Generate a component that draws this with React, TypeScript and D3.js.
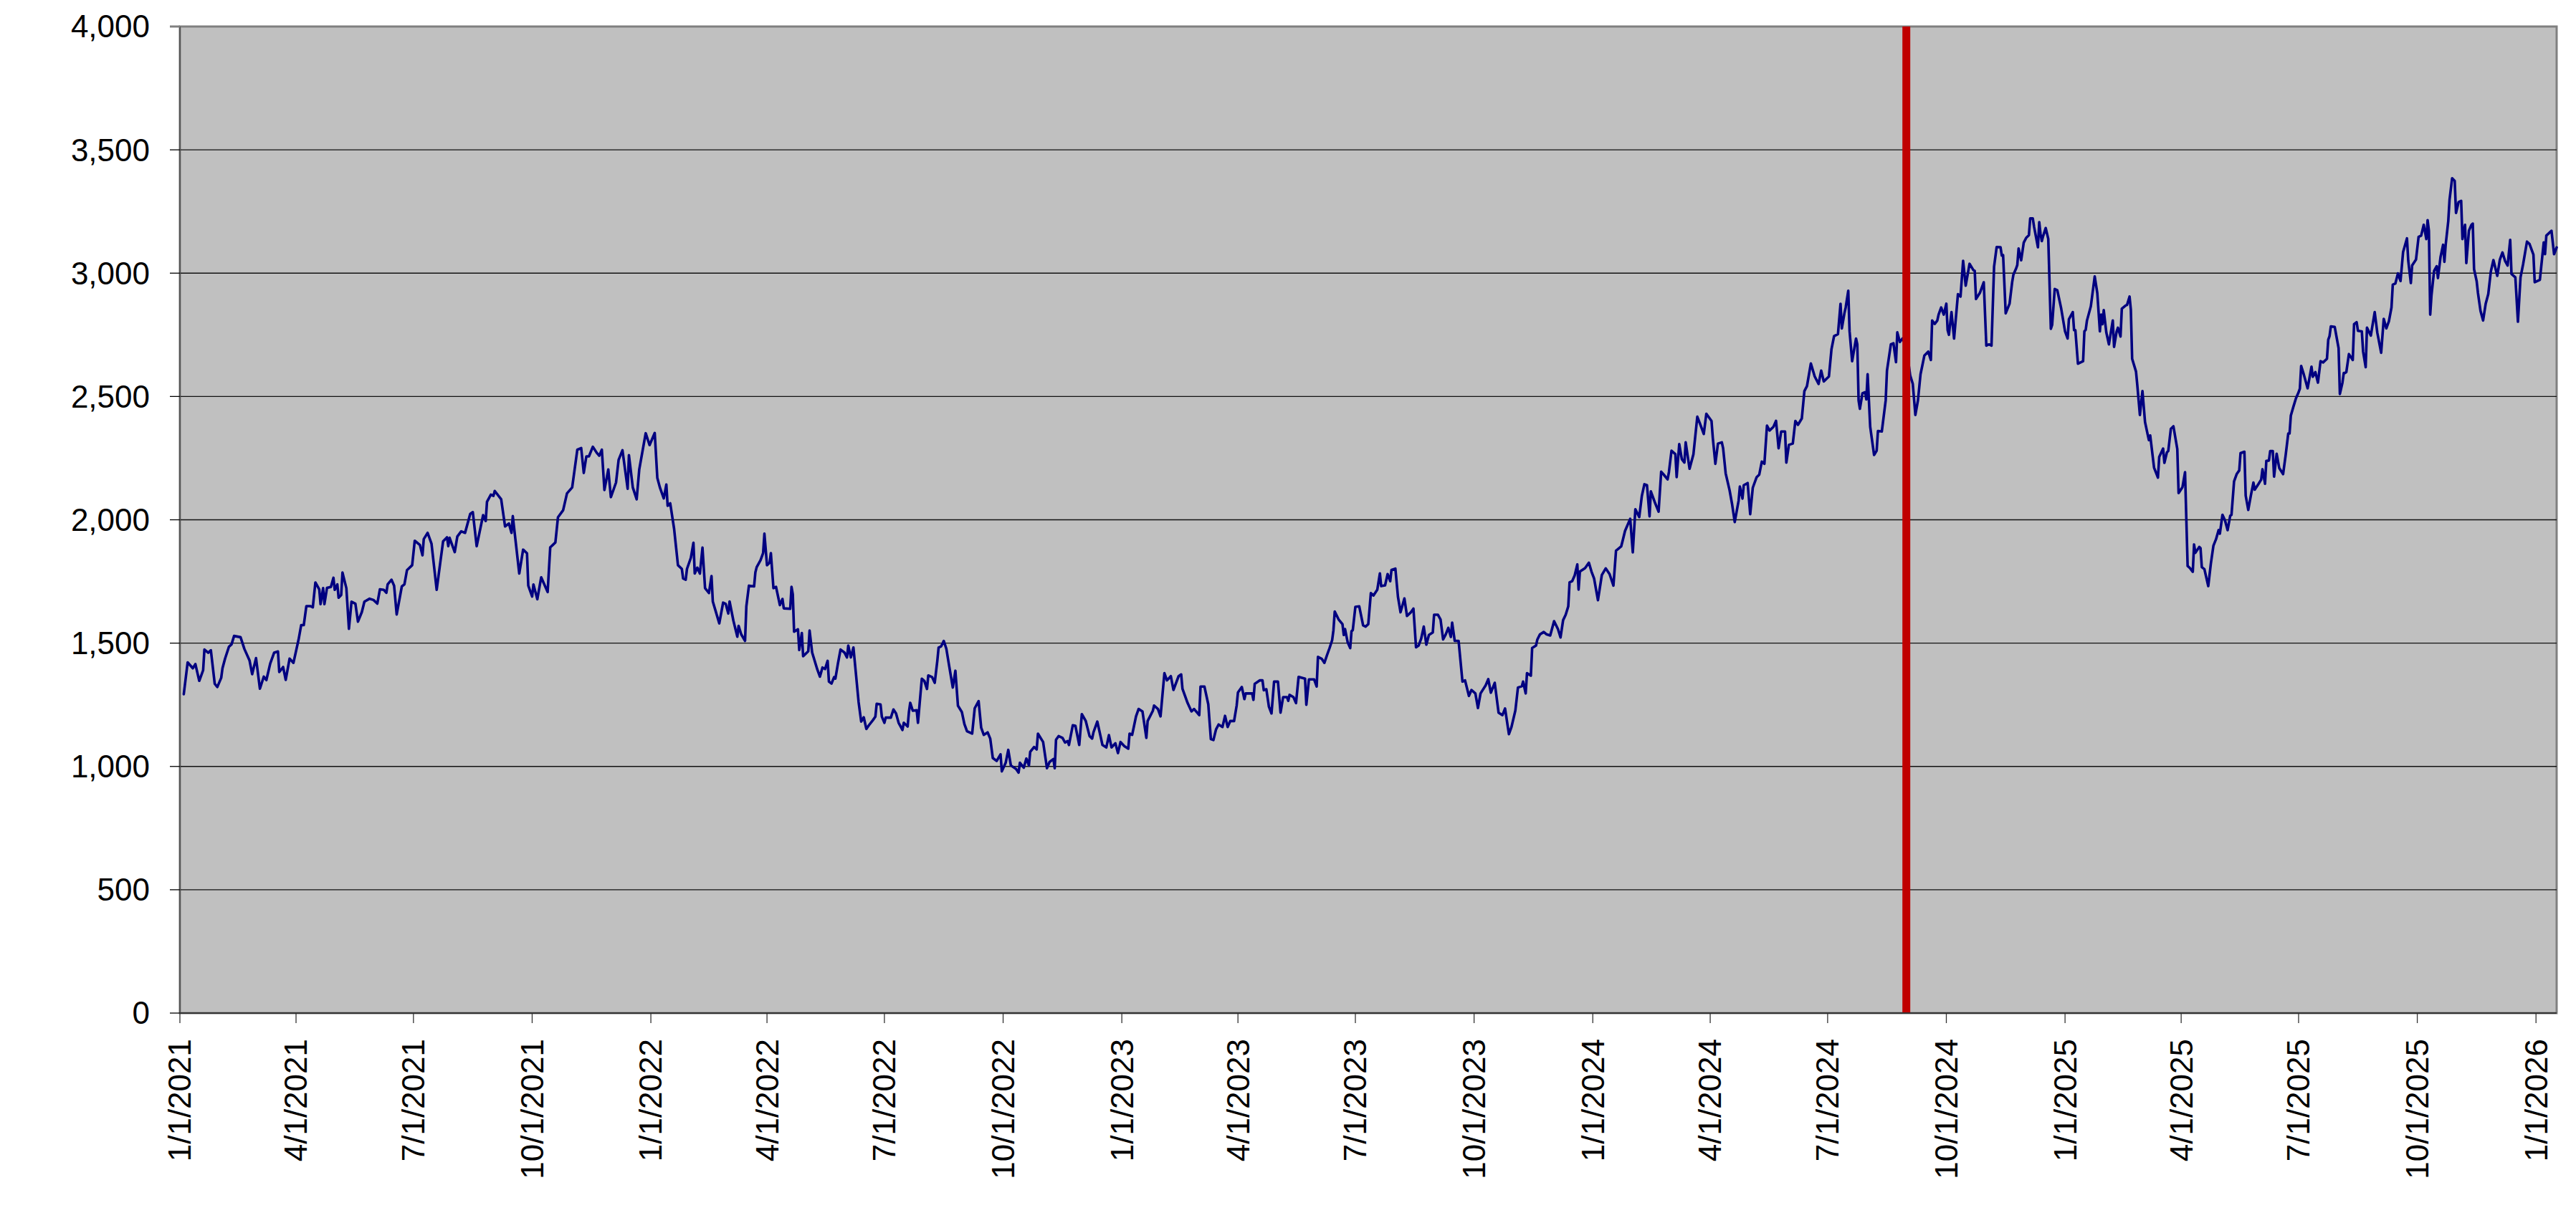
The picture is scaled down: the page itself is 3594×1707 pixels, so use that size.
import React from "react";
import * as d3 from "d3";

// ---- data ----
const startDate = "2021-01-01";
const endOffsetDays = 1842; // last day shown on the x axis
const markerDate = "2024-08-31";
const yTicks = [0, 500, 1000, 1500, 2000, 2500, 3000, 3500, 4000];

// [days since startDate, value]
const series2021: [number, number][] = [
  [3,1293],[6,1422],[10,1398],[12,1415],[15,1347],[18,1390],[19,1474],[22,1461],[24,1471],[27,1335],[29,1322],[32,1359],[33,1398],[35,1437],[38,1485],[40,1495],[42,1529],[47,1524],[50,1476],[54,1429],[56,1374],[59,1439],[62,1315],[65,1364],[67,1350],[70,1417],[73,1461],[76,1466],[77,1383],[80,1403],[82,1351],[85,1437],[88,1420],[92,1515],[94,1573],[96,1573],[98,1650],[101,1650],[103,1645],[105,1746],[108,1718],[109,1658],[111,1723],[112,1658],[114,1724],[117,1728],[119,1765],[120,1716],[122,1738],[123,1684],[125,1695],[126,1786],[129,1723],[131,1558],[133,1668],[136,1660],[138,1587],[141,1626],[143,1668],[147,1680],[150,1675],[153,1660],[155,1718],[158,1716],[160,1704],[161,1738],[164,1757],[166,1733],[168,1616],[172,1730],[174,1738],[176,1796],[180,1816],[182,1915],[186,1898],[188,1856],[189,1922],[192,1947],[195,1903],[199,1716],[202,1835],[204,1913],[207,1929],[208,1893],[209,1927],[213,1869],[215,1932],[218,1953],[221,1947],[225,2024],[227,2031],[230,1893],[235,2019],[237,1995],[238,2073],[241,2102],[243,2097],[244,2117],[249,2083],[252,1973],[255,1985],[257,1947],[258,2015],[263,1782],[266,1879],[269,1864],[270,1733],[273,1689],[274,1738],[277,1678],[280,1767],[285,1707],[287,1888],[291,1908],[293,2010],[297,2039],[300,2107],[304,2131],[308,2284],[311,2291],[313,2190],[315,2257],[317,2257],[320,2296],[323,2272],[325,2260],[327,2284],[329,2121],[332,2204],[334,2092],[338,2151],[340,2243],[343,2282],[347,2126],[348,2262],[351,2131],[354,2083],[356,2204],[361,2351],
];
const series2022: [number, number][] = [
  [364,2303],[368,2352],[370,2170],[372,2131],[375,2087],[377,2143],[378,2057],[380,2067],[383,1964],[386,1816],[389,1801],[390,1762],[392,1757],[393,1801],[396,1846],[398,1907],[399,1782],[401,1806],[403,1782],[405,1887],[407,1723],[410,1703],[412,1772],[413,1669],[418,1580],[421,1664],[423,1659],[425,1620],[426,1669],[429,1590],[432,1526],[433,1570],[435,1536],[438,1509],[439,1649],[441,1733],[445,1730],[446,1787],[447,1808],[450,1836],[452,1865],[453,1944],[455,1816],[457,1826],[458,1865],[460,1723],[462,1728],[465,1654],[467,1679],[468,1641],[473,1639],[474,1728],[475,1698],[476,1546],[479,1556],[480,1472],[482,1541],[483,1447],[487,1467],[488,1551],[490,1462],[494,1393],[496,1364],[498,1401],[500,1395],[502,1428],[503,1344],[505,1336],[507,1362],[508,1356],[510,1418],[512,1474],[515,1462],[517,1442],[518,1490],[520,1442],[522,1482],[526,1261],[528,1182],[530,1199],[532,1152],[534,1167],[537,1187],[539,1202],[540,1254],[543,1251],[544,1202],[546,1177],[547,1198],[551,1198],[553,1231],[555,1215],[557,1177],[560,1148],[561,1177],[564,1162],[565,1221],[566,1258],[568,1226],[571,1228],[572,1177],[575,1356],[577,1346],[579,1314],[580,1369],[583,1362],[585,1339],[587,1428],[588,1482],[590,1487],[592,1509],[594,1477],[596,1413],[599,1320],[601,1388],[603,1246],[606,1221],[608,1172],[610,1143],[614,1133],[616,1236],[619,1265],[621,1157],[623,1128],[626,1138],[628,1113],[630,1034],[633,1022],[636,1049],[637,980],[640,1015],[642,1067],[644,1004],[648,990],[650,975],[651,1015],[654,995],[656,1032],[658,1004],[659,1059],[662,1079],[664,1069],[665,1133],[669,1099],[672,993],[674,1018],[677,1030],[678,993],[679,1108],[681,1123],[684,1116],[686,1097],[688,1103],[689,1087],[692,1167],[694,1165],[697,1087],[699,1212],[702,1185],[705,1123],[707,1113],[708,1138],[711,1182],[715,1087],[718,1077],[720,1127],[722,1077],[725,1094],[727,1054],[729,1099],[732,1082],[735,1072],[736,1133],[738,1128],
];
const series2023: [number, number][] = [
  [741,1203],[743,1233],[746,1223],[749,1116],[750,1184],[754,1225],[755,1247],[758,1233],[760,1203],[763,1378],[765,1349],[768,1366],[770,1310],[774,1366],[776,1373],[777,1315],[781,1257],[784,1223],[786,1233],[790,1208],[791,1324],[794,1324],[797,1252],[799,1111],[801,1107],[803,1150],[805,1170],[808,1160],[810,1205],[812,1160],[814,1184],[817,1184],[819,1247],[820,1300],[823,1322],[825,1273],[826,1296],[831,1296],[832,1270],[833,1335],[837,1349],[839,1349],[840,1309],[842,1313],[844,1242],[846,1215],[848,1344],[851,1344],[852,1281],[853,1218],[855,1281],[858,1281],[859,1266],[860,1290],[863,1281],[865,1257],[867,1363],[872,1356],[873,1250],[875,1353],[879,1353],[881,1324],[882,1444],[885,1436],[887,1420],[889,1451],[891,1480],[893,1512],[894,1552],[895,1628],[898,1596],[901,1577],[902,1533],[903,1557],[905,1504],[907,1480],[908,1548],[909,1553],[911,1647],[914,1649],[917,1572],[919,1567],[921,1577],[923,1703],[925,1693],[928,1717],[930,1783],[931,1731],[934,1734],[936,1780],[938,1751],[939,1797],[942,1802],[944,1688],[946,1625],[949,1681],[951,1610],[954,1625],[956,1640],[958,1483],[960,1490],[962,1518],[964,1567],[966,1494],[968,1533],[971,1543],[972,1615],[975,1615],[977,1596],[979,1515],[981,1535],[983,1562],[985,1525],[986,1583],[988,1509],[991,1509],[994,1344],[996,1349],[999,1286],[1001,1310],[1004,1296],[1006,1237],[1008,1296],[1012,1329],[1014,1354],[1016,1299],[1019,1339],[1022,1218],[1025,1208],[1027,1235],[1030,1131],[1032,1160],[1035,1227],[1037,1320],[1040,1325],[1041,1344],[1043,1296],[1044,1378],[1047,1368],[1048,1480],[1051,1490],[1052,1514],[1054,1535],[1057,1545],[1059,1536],[1062,1531],[1065,1589],[1068,1557],[1070,1523],[1072,1593],[1074,1615],[1076,1649],[1077,1746],[1079,1751],[1081,1775],[1083,1819],[1084,1717],[1085,1790],[1089,1804],[1092,1826],
];
const series2024: [number, number][] = [
  [1094,1790],[1096,1762],[1099,1674],[1102,1776],[1105,1803],[1108,1780],[1111,1733],[1113,1875],[1117,1892],[1118,1912],[1120,1955],[1124,2004],[1126,1868],[1128,2043],[1131,2011],[1133,2096],[1135,2144],[1137,2140],[1139,2014],[1140,2115],[1143,2072],[1146,2033],[1148,2195],[1150,2183],[1153,2164],[1154,2193],[1156,2280],[1159,2266],[1160,2173],[1162,2307],[1164,2246],[1166,2232],[1167,2314],[1170,2207],[1173,2266],[1176,2418],[1178,2391],[1181,2348],[1183,2430],[1187,2401],[1188,2333],[1190,2227],[1192,2309],[1195,2314],[1196,2290],[1198,2188],[1201,2120],[1203,2062],[1205,1991],[1208,2077],[1209,2135],[1211,2086],[1212,2140],[1215,2149],[1217,2023],[1219,2130],[1222,2173],[1224,2183],[1226,2236],[1228,2227],[1230,2382],[1232,2362],[1235,2377],[1237,2401],[1239,2290],[1241,2358],[1244,2358],[1245,2232],[1247,2304],[1250,2309],[1252,2401],[1254,2385],[1257,2411],[1259,2522],[1261,2542],[1264,2634],[1267,2581],[1270,2551],[1272,2605],[1274,2561],[1278,2581],[1280,2692],[1282,2745],[1285,2753],[1287,2876],[1288,2776],[1290,2837],[1291,2861],[1293,2929],[1294,2765],[1296,2643],[1299,2735],[1300,2711],[1301,2484],[1302,2450],[1304,2513],[1306,2517],[1307,2488],[1308,2590],[1310,2377],[1313,2263],[1315,2280],[1316,2360],[1319,2358],[1322,2484],[1323,2605],[1326,2711],[1328,2716],[1330,2639],[1331,2760],[1333,2721],[1335,2735],[1338,2700],[1341,2585],[1343,2551],[1345,2425],[1347,2484],[1349,2590],[1352,2666],[1355,2682],[1357,2648],[1358,2808],[1360,2794],[1362,2808],[1363,2832],[1365,2861],[1367,2832],[1369,2876],[1370,2769],[1371,2750],[1373,2842],[1375,2735],[1378,2915],[1380,2905],[1382,3050],[1384,2949],[1387,3038],[1390,3012],[1391,3009],[1392,2895],[1395,2920],[1398,2963],[1400,2706],[1402,2711],[1404,2706],[1406,3026],[1408,3106],[1411,3105],[1412,3071],[1413,3073],[1415,2837],[1418,2876],[1420,2963],[1421,2994],[1423,3018],[1424,3033],[1425,3100],[1427,3052],[1429,3124],[1431,3144],[1433,3154],[1434,3222],[1436,3222],[1437,3188],[1440,3105],[1441,3207],[1442,3159],[1443,3130],[1444,3150],[1446,3183],[1448,3139],[1450,2774],[1451,2790],[1453,2936],[1455,2931],[1458,2857],
];
const series2025: [number, number][] = [
  [1461,2764],[1463,2735],[1464,2813],[1467,2842],[1468,2769],[1469,2769],[1471,2633],[1475,2643],[1476,2764],[1477,2770],[1478,2808],[1481,2866],[1484,2987],[1486,2919],[1488,2764],[1489,2832],[1490,2793],[1491,2850],[1493,2759],[1495,2711],[1498,2808],[1499,2701],[1501,2764],[1502,2779],[1504,2743],[1505,2856],[1508,2869],[1509,2871],[1511,2905],[1512,2852],[1513,2653],[1516,2601],[1517,2546],[1519,2425],[1521,2522],[1523,2396],[1525,2347],[1526,2323],[1527,2342],[1530,2211],[1533,2171],[1534,2255],[1537,2289],[1538,2231],[1540,2274],[1541,2279],[1543,2369],[1545,2379],[1548,2287],[1549,2108],[1552,2132],[1554,2193],[1556,1813],[1558,1803],[1560,1789],[1561,1900],[1562,1866],[1565,1890],[1566,1885],[1567,1808],[1569,1800],[1572,1731],[1574,1822],[1576,1895],[1578,1921],[1580,1958],[1581,1944],[1583,2020],[1585,1997],[1587,1958],[1589,2016],[1590,2020],[1592,2156],[1594,2185],[1596,2200],[1597,2270],[1600,2276],[1601,2098],[1603,2040],[1605,2098],[1607,2151],[1608,2122],[1611,2146],[1613,2163],[1614,2205],[1616,2146],[1617,2239],[1619,2240],[1620,2279],[1622,2279],[1623,2175],[1625,2268],[1627,2210],[1630,2185],[1632,2263],[1634,2350],[1635,2350],[1636,2423],[1638,2459],[1640,2493],[1642,2517],[1643,2532],[1644,2624],[1646,2590],[1649,2533],[1652,2621],[1653,2580],[1655,2599],[1657,2556],[1659,2643],[1661,2638],[1664,2653],[1665,2730],[1666,2745],[1667,2784],[1670,2782],[1673,2696],[1674,2510],[1676,2556],[1677,2595],[1678,2595],[1679,2599],[1681,2672],[1684,2648],[1685,2793],[1687,2801],[1688,2766],[1691,2764],[1692,2682],[1694,2619],[1695,2779],[1698,2747],[1699,2779],[1701,2842],[1703,2759],[1706,2677],[1708,2815],[1710,2776],[1712,2805],[1714,2861],[1715,2953],[1717,2958],[1719,2999],[1721,2968],[1723,3086],[1726,3141],[1727,3050],[1729,2960],[1730,3031],[1733,3055],[1735,3147],[1737,3152],[1739,3196],[1741,3138],[1742,3215],[1743,3172],[1744,2832],[1745,2910],[1747,3009],[1749,3028],[1750,2980],[1752,3065],[1754,3115],[1755,3046],[1756,3115],[1758,3211],[1759,3298],[1761,3385],[1763,3374],[1764,3244],[1766,3288],[1768,3293],[1769,3138],[1771,3196],[1772,3041],[1774,3172],[1776,3196],[1777,3201],[1778,3016],[1780,2968],[1781,2920],[1783,2847],[1785,2808],[1787,2876],[1789,2915],[1791,3007],[1793,3053],[1796,2989],[1798,3055],[1800,3084],[1802,3050],[1804,3031],[1806,3135],[1807,2997],[1810,2983],[1812,2803],[1814,2983],[1816,3036],[1819,3128],[1821,3118],[1824,3075],[1825,2963],[1829,2973],[1832,3125],[1833,3077],[1834,3152],[1838,3172],[1840,3077],[1842,3104],
];

// ---- layout ----
const W = 3594;
const H = 1707;
const M = { left: 251, right: 3567, top: 37, bottom: 1414 };
const FONT = "'Liberation Sans', Arial, Helvetica, sans-serif";

const DAY = 86400000;
const start = new Date(startDate + "T00:00:00Z");
const toDate = (offset: number) => new Date(start.getTime() + offset * DAY);

export default function App() {
  const allPoints = [...series2021, ...series2022, ...series2023, ...series2024, ...series2025].map(
    ([o, v]) => ({ date: toDate(o), value: v })
  );
  const x = d3.scaleUtc().domain([start, toDate(endOffsetDays)]).range([M.left, M.right]);
  const y = d3.scaleLinear().domain([0, 4000]).range([M.bottom, M.top]);
  const line = d3
    .line<{ date: Date; value: number }>()
    .x((d) => x(d.date))
    .y((d) => y(d.value));
  const xTicks = d3.utcMonth.every(3)!.range(start, toDate(endOffsetDays));
  const fmtDate = d3.utcFormat("%-m/%-d/%Y");
  const fmtNum = d3.format(",");
  const markerX = x(new Date(markerDate + "T00:00:00Z"));

  return (
    <svg
      width={W}
      height={H}
      style={{ position: "absolute", left: 0, top: 0, display: "block", background: "#fff" }}
    >
      <rect x={0} y={0} width={W} height={H} fill="#fff" />
      {/* plot area */}
      <rect
        x={M.left}
        y={M.top}
        width={M.right - M.left}
        height={M.bottom - M.top}
        fill="#C0C0C0"
        stroke="#808080"
        strokeWidth={3}
      />
      {/* gridlines */}
      {yTicks
        .filter((t) => t > 0 && t < 4000)
        .map((t) => (
          <line key={"g" + t} x1={M.left} x2={M.right} y1={y(t)} y2={y(t)} stroke="#111" strokeWidth={1.3} />
        ))}
      {/* data line */}
      <path
        d={line(allPoints) || ""}
        fill="none"
        stroke="#000080"
        strokeWidth={3.6}
        strokeLinejoin="round"
        strokeLinecap="round"
      />
      {/* marker line */}
      <line x1={markerX} x2={markerX} y1={M.top} y2={M.bottom} stroke="#C00000" strokeWidth={11} />
      {/* axes */}
      <line x1={M.left} x2={M.left} y1={M.top} y2={M.bottom} stroke="#555" strokeWidth={2} />
      <line x1={M.left} x2={M.right} y1={M.bottom} y2={M.bottom} stroke="#333" strokeWidth={2} />
      {/* y ticks + labels */}
      {yTicks.map((t) => (
        <g key={"y" + t}>
          <line
            x1={M.left - 14}
            x2={M.left}
            y1={y(t)}
            y2={y(t)}
            stroke={t === 4000 ? "#808080" : "#000"}
            strokeWidth={t === 4000 ? 3 : 1.3}
          />
          <text
            x={209}
            y={y(t)}
            dy="0.35em"
            textAnchor="end"
            fontFamily={FONT}
            fontSize={44}
            fill="#000"
          >
            {fmtNum(t)}
          </text>
        </g>
      ))}
      {/* x ticks + labels */}
      {xTicks.map((d) => {
        const xx = x(d);
        return (
          <g key={"x" + d.getTime()}>
            <line x1={xx} x2={xx} y1={M.bottom} y2={M.bottom + 14} stroke="#333" strokeWidth={1.3} />
            <text
              transform={`translate(${xx},1450) rotate(-90)`}
              dy="0.35em"
              textAnchor="end"
              fontFamily={FONT}
              fontSize={44}
              fill="#000"
            >
              {fmtDate(d)}
            </text>
          </g>
        );
      })}
    </svg>
  );
}
